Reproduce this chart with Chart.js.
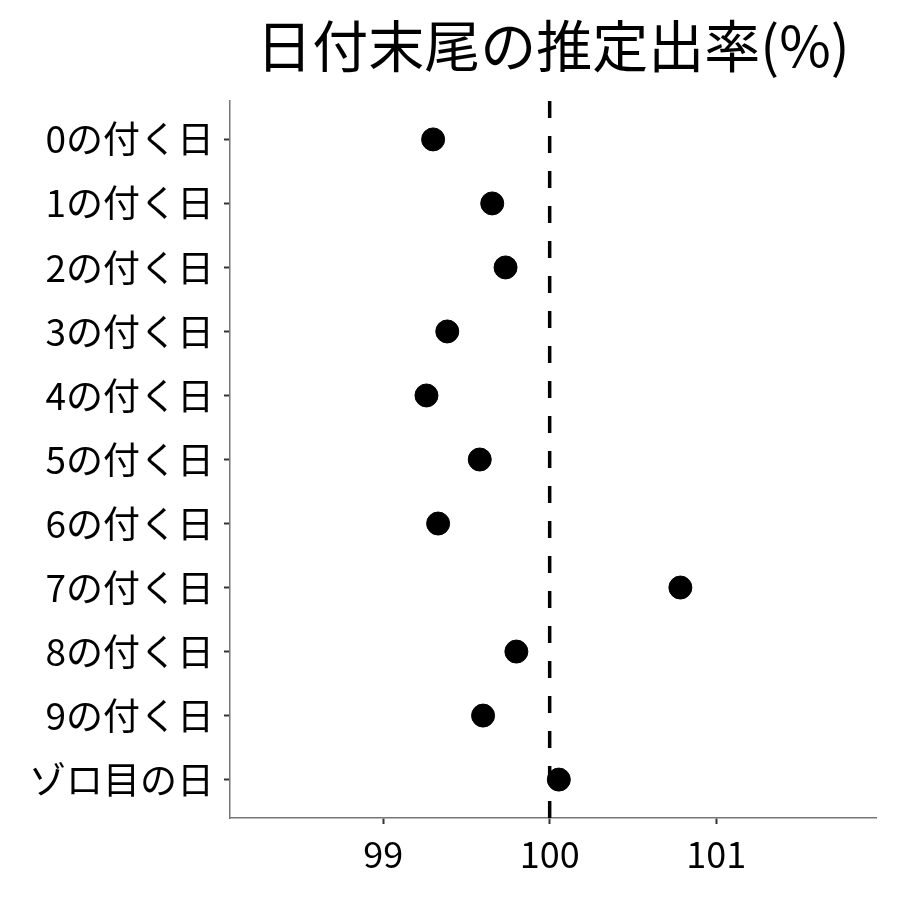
<!DOCTYPE html>
<html>
<head>
<meta charset="utf-8">
<script src="https://cdn.jsdelivr.net/npm/chart.js@4"></script>
<style>
  html, body { margin: 0; padding: 0; background: #fff; }
  #wrap { width: 900px; height: 900px; }
</style>
</head>
<body>
<div id="wrap"><canvas id="dotChart" width="900" height="900"></canvas></div>
<script>
// categories (top to bottom) and estimated rates
const categories = ['0の付く日', '1の付く日', '2の付く日', '3の付く日', '4の付く日',
                    '5の付く日', '6の付く日', '7の付く日', '8の付く日', '9の付く日', 'ゾロ目の日'];
const rates = [99.30, 99.655, 99.735, 99.385, 99.26, 99.58, 99.33, 100.785, 99.80, 99.60, 100.055];
const xTicks = [99, 100, 101];
const refValue = 100;

const font = '"Noto Sans CJK JP", "Noto Sans", sans-serif';

let ctx = document.getElementById('dotChart').getContext('2d');

let dotChart = new Chart(ctx, {
    type: 'scatter',
    data: {
        datasets: [{
            data: rates.map((v, i) => ({x: v, y: i})),
            backgroundColor: '#000',
            borderColor: '#000',
            pointRadius: 11.5,
            pointHoverRadius: 11.5,
            order: 1
        }, {
            type: 'line',
            data: [{x: refValue, y: -0.6}, {x: refValue, y: categories.length - 0.4}],
            borderColor: '#000',
            borderWidth: 3.5,
            borderDash: [17, 18],
            pointRadius: 0,
            order: 2
        }]
    },
    options: {
        responsive: false,
        animation: false,
        layout: {padding: {left: 0, right: 24, top: 0, bottom: 0}},
        plugins: {
            legend: {display: false},
            tooltip: {enabled: false},
            title: {
                display: true,
                fullSize: false,
                text: '日付末尾の推定出率(%)',
                color: '#000',
                font: {family: font, size: 56, weight: 'normal'},
                padding: {top: 12, bottom: 21.8}
            }
        },
        scales: {
            x: {
                type: 'linear',
                min: 98.08,
                max: 101.96,
                afterBuildTicks: s => { s.ticks = xTicks.map(v => ({value: v})) },
                afterFit: s => { s.height = 82 },
                grid: {drawOnChartArea: false, tickLength: 6, tickColor: '#333', tickWidth: 2},
                border: {color: '#777', width: 1.5},
                ticks: {color: '#000', padding: 9, font: {family: font, size: 36}}
            },
            y: {
                type: 'linear',
                reverse: true,
                min: -0.6,
                max: categories.length - 0.4,
                afterBuildTicks: s => { s.ticks = categories.map((c, i) => ({value: i})) },
                afterFit: s => { s.width = 230 },
                grid: {drawOnChartArea: false, tickLength: 6, tickColor: '#333', tickWidth: 2},
                border: {color: '#777', width: 1.5},
                ticks: {
                    color: '#000',
                    padding: 10,
                    font: {family: font, size: 37},
                    callback: v => categories[v]
                }
            }
        }
    }
});
</script>
</body>
</html>
